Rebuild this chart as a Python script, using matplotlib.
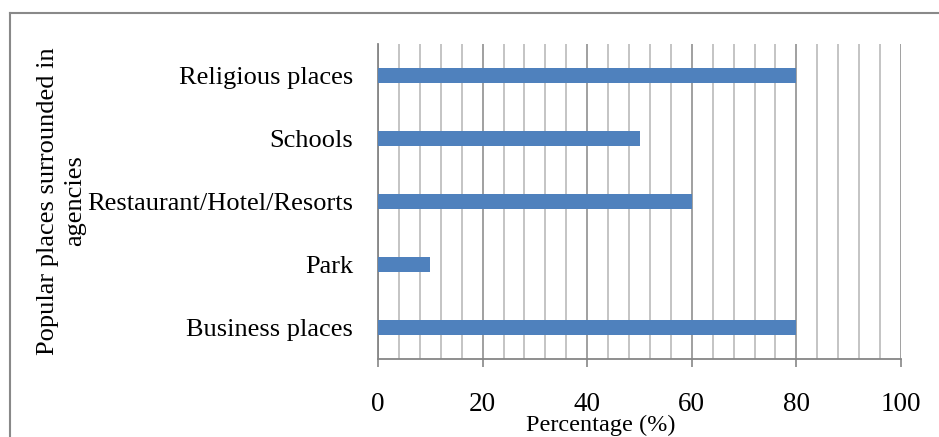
import matplotlib
matplotlib.use("Agg")
import matplotlib.pyplot as plt
from matplotlib.lines import Line2D
from matplotlib.ticker import MultipleLocator

# Places surrounding the agencies and their share (%)
categories = ["Business places", "Park", "Restaurant/Hotel/Resorts", "Schools", "Religious places"]
percentages = [80, 10, 60, 50, 80]
x_ticks = [0, 20, 40, 60, 80, 100]

plt.rcParams["font.family"] = ["Liberation Serif", "DejaVu Serif"]

W, H = 939, 437
fig = plt.figure(figsize=(W / 100, H / 100), dpi=100)
ax = fig.add_axes([378 / W, 1 - 359 / H, (901 - 378) / W, (359 - 44) / H])

bar_color = "#4F81BD"
major_grey = "#868686"
minor_grey = "#BFBFBF"

ypos = list(range(len(categories)))
ax.barh(ypos, percentages, height=0.245, color=bar_color, zorder=3)

ax.set_xlim(0, 100)
ax.set_ylim(-0.5, len(categories) - 0.5)
ax.set_xticks(x_ticks)
ax.set_xticklabels([str(t) for t in x_ticks])
ax.xaxis.set_minor_locator(MultipleLocator(4))
ax.set_yticks(ypos)
ax.set_yticklabels(categories)

ax.grid(which="minor", axis="x", color=minor_grey, linewidth=1.3, zorder=0)
ax.grid(which="major", axis="x", color=major_grey, linewidth=1.1, zorder=1)
ax.grid(False, axis="y")

for side in ("top", "right"):
    ax.spines[side].set_visible(False)
for side in ("left", "bottom"):
    ax.spines[side].set_color(major_grey)
    ax.spines[side].set_linewidth(1.3)

ax.tick_params(axis="x", which="major", direction="out", length=6, width=1.2,
               color=major_grey, labelsize=19.5, pad=18)
ax.tick_params(axis="x", which="minor", length=0)
ax.tick_params(axis="y", length=0, labelsize=19, pad=18)

fig.text(601 / W, 1 - 431 / H, "Percentage (%)", fontsize=17.5,
         ha="center", va="baseline")
fig.text(62 / W, 1 - 201 / H, "Popular places surrounded in\nagencies",
         fontsize=19, rotation=90, ha="center", va="center",
         multialignment="center", linespacing=1.3)

# Chart-area frame (left and top edges)
frame_kw = dict(color="#898989", linewidth=1.5, transform=fig.transFigure)
fig.add_artist(Line2D([10 / W, 10 / W], [0, 1 - 13 / H], **frame_kw))
fig.add_artist(Line2D([10 / W, 1], [1 - 13 / H, 1 - 13 / H], **frame_kw))

fig.savefig("out.png", dpi=100)
